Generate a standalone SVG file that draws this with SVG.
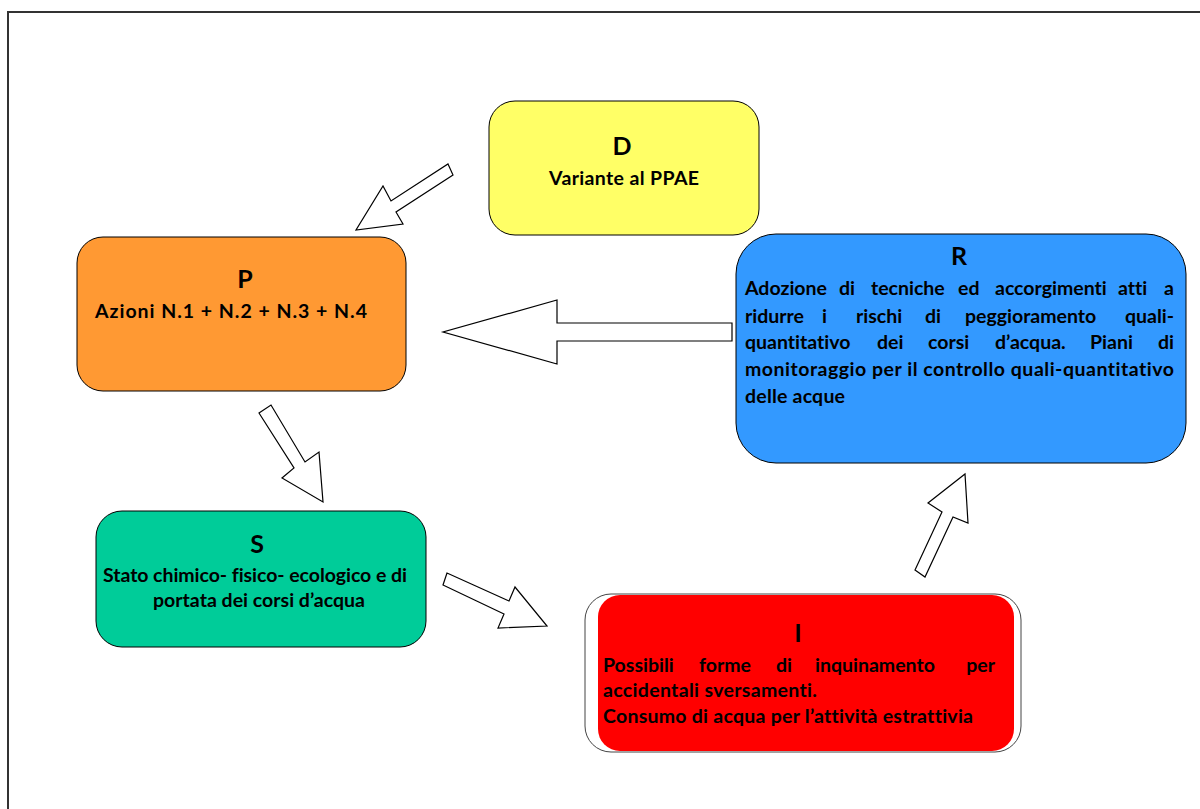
<svg xmlns="http://www.w3.org/2000/svg" width="1200" height="809" viewBox="0 0 1200 809">
  <style>
    .box { stroke: #000; stroke-width: 1; }
    .arrow { fill: #fff; stroke: #000; stroke-width: 1.2; stroke-linejoin: miter; }
    text { font-family: Lato, "Open Sans", sans-serif; font-weight: 700; fill: #000; font-variant-ligatures: none; }
    .head { font-size: 25px; text-anchor: middle; }
    .body { font-size: 19.5px; }
    .end { text-anchor: end; }
  </style>
  <rect x="0" y="0" width="1200" height="809" fill="#fff"/>
  <!-- page frame -->
  <path d="M8 809 V12 H1200" fill="none" stroke="#333" stroke-width="2"/>

  <!-- block arrows -->
  <g id="connectors">
    <polygon class="arrow" points="448,164 453,175 396,212 403,224 356,230 383,186 391,201"/>
    <polygon class="arrow" points="732,323 732,341 557,341 557,364 443,332 557,300 557,323"/>
    <polygon class="arrow" points="259,413 271,405 305,462 319,452 323,502 282,478 294,468"/>
    <polygon class="arrow" points="447,573 443,585 504,614 498,628 547,626 515,587 509,601"/>
    <polygon class="arrow" points="915,570 925,577 953,517 968,523 965,474 928,503 942,512"/>
  </g>

  <g id="node-D">
    <rect class="box" x="489" y="101" width="270" height="134" rx="26" fill="#FFFF66"/>
    <text class="head" x="622" y="155">D</text>
    <text class="body" x="549" y="185" textLength="150" lengthAdjust="spacing">Variante al PPAE</text>
  </g>

  <g id="node-P">
    <rect class="box" x="77" y="237" width="329" height="154" rx="26" fill="#FF9933"/>
    <text class="head" x="245" y="288">P</text>
    <text class="body" x="95" y="318" textLength="272" lengthAdjust="spacing">Azioni N.1 + N.2 + N.3 + N.4</text>
  </g>

  <g id="node-S">
    <rect class="box" x="96" y="511" width="330" height="136" rx="26" fill="#00CC99"/>
    <text class="head" x="257" y="553">S</text>
    <text class="body" x="103" y="582" textLength="304" lengthAdjust="spacing">Stato chimico- fisico- ecologico e di</text>
    <text class="body" x="153" y="607" textLength="212" lengthAdjust="spacing">portata dei corsi d’acqua</text>
  </g>

  <g id="node-I">
    <rect x="585" y="594" width="436" height="158" rx="26" fill="#fff" stroke="#444" stroke-width="1"/>
    <rect x="598" y="595" width="416" height="156" rx="22" fill="#FF0000"/>
    <text class="head" x="798" y="642">I</text>
    <text class="body" y="672"><tspan x="603">Possibili</tspan><tspan x="699">forme</tspan><tspan x="776">di</tspan><tspan x="815">inquinamento</tspan></text>
    <text class="body end" x="995" y="672">per</text>
    <text class="body" x="603" y="697" textLength="214" lengthAdjust="spacing">accidentali sversamenti.</text>
    <text class="body" x="603" y="723" textLength="370" lengthAdjust="spacing">Consumo di acqua per l’attività estrattivia</text>
  </g>

  <g id="node-R">
    <rect class="box" x="736" y="234" width="450" height="229" rx="40" fill="#3399FF"/>
    <text class="head" x="959" y="265">R</text>
    <text class="body" y="295"><tspan x="745">Adozione</tspan><tspan x="839">di</tspan><tspan x="871">tecniche</tspan><tspan x="958">ed</tspan><tspan x="995">accorgimenti</tspan><tspan x="1118">atti</tspan></text>
    <text class="body end" x="1174" y="295">a</text>
    <text class="body" y="323"><tspan x="745">ridurre</tspan><tspan x="822">i</tspan><tspan x="856">rischi</tspan><tspan x="925">di</tspan><tspan x="965">peggioramento</tspan></text>
    <text class="body end" x="1174" y="323">quali-</text>
    <text class="body" y="349"><tspan x="745">quantitativo</tspan><tspan x="877">dei</tspan><tspan x="928">corsi</tspan><tspan x="995">d’acqua.</tspan><tspan x="1090">Piani</tspan></text>
    <text class="body end" x="1174" y="349">di</text>
    <text class="body" x="745" y="376" textLength="429" lengthAdjust="spacing">monitoraggio per il controllo quali-quantitativo</text>
    <text class="body" x="745" y="403" textLength="100" lengthAdjust="spacing">delle acque</text>
  </g>
</svg>
